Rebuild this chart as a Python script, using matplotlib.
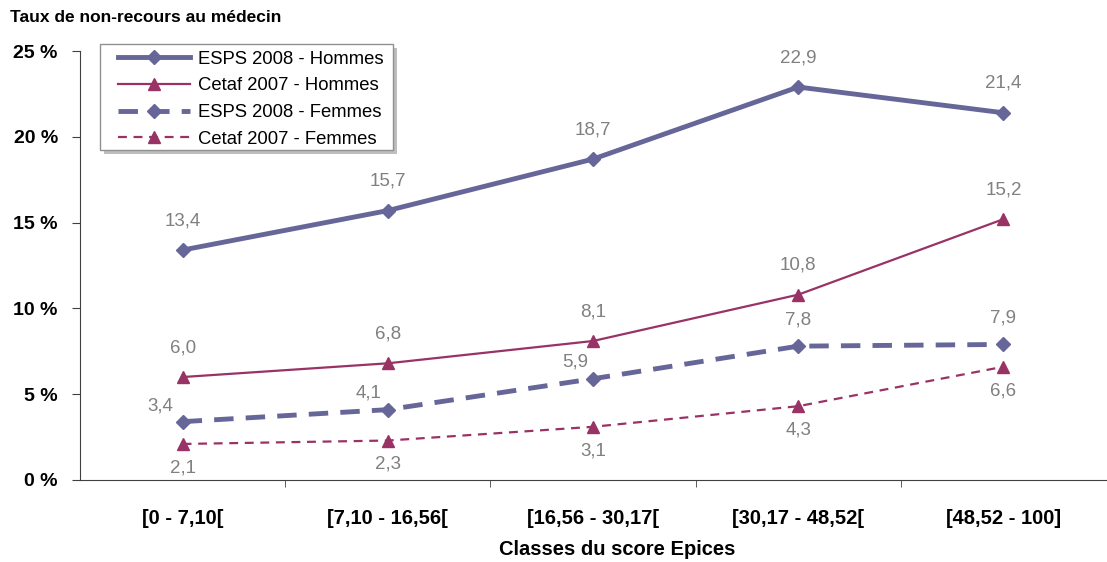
import numpy as np
import matplotlib
matplotlib.use('Agg')
import matplotlib.pyplot as plt
import matplotlib.transforms as mtransforms
from matplotlib.patches import Rectangle

plt.rcParams['font.family'] = ['Liberation Sans', 'DejaVu Sans']

categories = ['[0 - 7,10[', '[7,10 - 16,56[', '[16,56 - 30,17[', '[30,17 - 48,52[', '[48,52 - 100]']
esps_hommes = [13.4, 15.7, 18.7, 22.9, 21.4]
cetaf_hommes = [6.0, 6.8, 8.1, 10.8, 15.2]
esps_femmes = [3.4, 4.1, 5.9, 7.8, 7.9]
cetaf_femmes = [2.1, 2.3, 3.1, 4.3, 6.6]

blue = '#666699'
purple = '#993366'
gray = '#808080'

fig = plt.figure(figsize=(11.07, 5.62), dpi=100)
ax = fig.add_axes([80 / 1107, 1 - 480 / 562, 1026 / 1107, 429 / 562])
x = np.arange(len(categories))

ax.plot(x, esps_hommes, color=blue, lw=3.5, marker='D', ms=7, label='ESPS 2008 - Hommes')
ax.plot(x, cetaf_hommes, color=purple, lw=1.6, marker='^', ms=9, label='Cetaf 2007 - Hommes')
ax.plot(x, esps_femmes, color=blue, lw=3.5, ls=(0, (4, 2.5)), marker='D', ms=7, label='ESPS 2008 - Femmes')
ax.plot(x, cetaf_femmes, color=purple, lw=1.6, ls=(0, (4, 3)), marker='^', ms=9, label='Cetaf 2007 - Femmes')

def fmt(v):
    return f'{v:.1f}'.replace('.', ',')

lab = dict(color=gray, fontsize=13.5, ha='center')
for i, v in enumerate(esps_hommes):
    ax.annotate(fmt(v), (i, v), xytext=(0, 15), textcoords='offset points', va='bottom', **lab)
for i, v in enumerate(cetaf_hommes):
    ax.annotate(fmt(v), (i, v), xytext=(0, 15), textcoords='offset points', va='bottom', **lab)
fem_off = [(-16, 5), (-14, 6), (-13, 6), (0, 13), (0, 13)]
for i, v in enumerate(esps_femmes):
    ax.annotate(fmt(v), (i, v), xytext=fem_off[i], textcoords='offset points', va='bottom', **lab)
for i, v in enumerate(cetaf_femmes):
    ax.annotate(fmt(v), (i, v), xytext=(0, -11), textcoords='offset points', va='top', **lab)

ax.set_xlim(-0.5, len(categories) - 0.5)
ax.set_ylim(0, 25)
ax.set_yticks(range(0, 26, 5))
ax.set_yticklabels([f'{t} %' for t in range(0, 26, 5)], fontsize=14, fontweight='bold')
ax.set_xticks(x)
ax.set_xticklabels(categories, fontsize=14.5, fontweight='bold')
ax.set_xticks(np.arange(0.5, len(categories) - 0.5), minor=True)
ax.tick_params(axis='x', which='major', length=0, pad=21)
ax.tick_params(axis='x', which='minor', length=5, direction='out', color='#404040')
ax.tick_params(axis='y', length=6, direction='out', color='#404040', pad=10)
for s in ['top', 'right']:
    ax.spines[s].set_visible(False)
ax.spines['left'].set_color('#404040')
ax.spines['bottom'].set_color('#404040')
ax.set_xlabel('Classes du score Epices', fontsize=14.5, fontweight='bold', labelpad=10)
ax.xaxis.set_label_coords(537 / 1026, -0.14)
fig.text(10 / 1107, 1 - 18 / 562, 'Taux de non-recours au médecin', fontsize=12.5,
         fontweight='bold', va='center', ha='left')

# legend box drawn by hand so the inner left margin matches
box_xy = (20 / 1026, 330 / 429)
box_w, box_h = 293 / 1026, 106 / 429
shadow_tr = mtransforms.offset_copy(ax.transAxes, fig=fig, x=4, y=-4, units='dots')
ax.add_patch(Rectangle(box_xy, box_w, box_h, transform=shadow_tr, facecolor='#8a8a8a',
                       edgecolor='none', alpha=0.55, clip_on=False, zorder=3.9))
ax.add_patch(Rectangle(box_xy, box_w, box_h, transform=ax.transAxes, facecolor='white',
                       edgecolor='#909090', lw=1, clip_on=False, zorder=4))

leg = ax.legend(loc='upper left', bbox_to_anchor=(32 / 1026, 1 + 6 / 429), fontsize=13.3,
                frameon=False, handlelength=3.9, handletextpad=0.45, borderaxespad=0,
                borderpad=0.3, labelspacing=0.53)
leg.set_zorder(5)

fig.savefig('out.png', dpi=100)
